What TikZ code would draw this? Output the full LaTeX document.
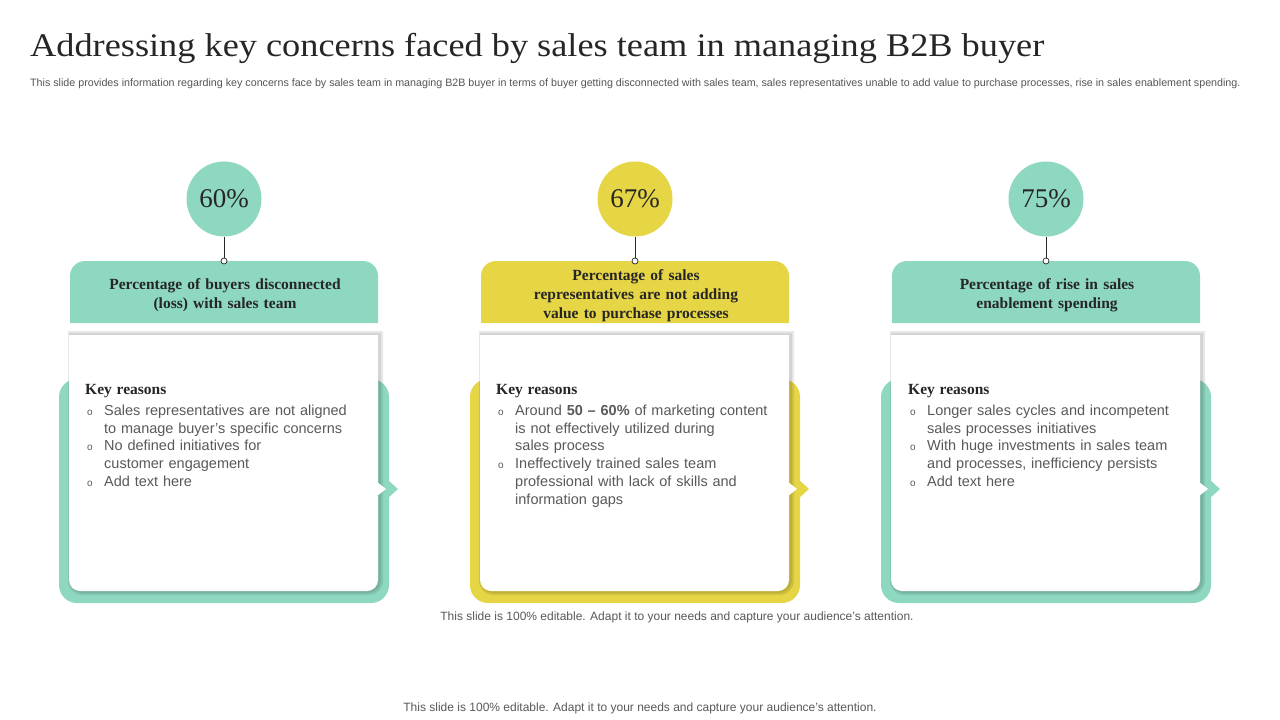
\documentclass[tikz,border=0pt]{standalone}
\usepackage{fontspec}
\setmainfont{Liberation Serif}
\setsansfont{Liberation Sans}
\usetikzlibrary{calc}
\definecolor{tealc}{HTML}{8ED8C2}
\definecolor{yellc}{HTML}{E6D544}
\definecolor{titlec}{HTML}{262626}
\definecolor{bodyc}{HTML}{595959}
\definecolor{subc}{HTML}{555555}
\newcommand\bl{\makebox[19pt][l]{\hspace{2pt}{\fontsize{10}{10}\selectfont o}}}
\newcommand\ind{\hspace*{19pt}}
\newcommand\kh{{\fontsize{15.5}{20}\selectfont\rmfamily\bfseries\color{titlec}Key reasons}\\[3.5pt]}
\tikzset{
  circnum/.style={circle, inner sep=0pt, minimum size=75pt, font=\fontsize{27}{30}\selectfont, text=titlec},
  dot/.style={circle, draw=titlec, fill=white, line width=0.7pt, inner sep=0pt, minimum size=6pt},
  headtxt/.style={align=center, text width=290pt, font=\fontsize{15.5}{19}\selectfont\bfseries, text=titlec},
  cardtxt/.style={anchor=north west, align=left, text width=290pt, inner sep=0pt, font=\sffamily\fontsize{14.5}{17.7}\selectfont, text=bodyc},
  foot/.style={font=\sffamily\fontsize{12}{14}\selectfont, text=bodyc},
  glow/.style={black, opacity=0.09}
}
\begin{document}
\begin{tikzpicture}[x=1pt,y=-1pt]
\useasboundingbox[fill=white] (0,0) rectangle (1280,720);

\node[anchor=west, inner sep=0pt, font=\fontsize{33}{38}\selectfont, text=titlec] (title) at (30,48) {\scalebox{1.1}[1]{Addressing key concerns faced by sales team in managing B2B buyer}};
\node[anchor=west, inner sep=0pt, font=\sffamily\fontsize{10.7}{12}\selectfont, text=subc] (sub) at (30,84) {This slide provides information regarding key concerns face by sales team in managing B2B buyer in terms of buyer getting disconnected with sales team, sales representatives unable to add value to purchase processes, rise in sales enablement spending.};

\foreach \cx/\col in {224/tealc, 635/yellc, 1046/tealc}{
  % outer frame
  \fill[\col, rounded corners=18pt] (\cx-165,379) rectangle (\cx+165,603);
  \fill[\col] (\cx+164,480) -- (\cx+174,489) -- (\cx+164,498) -- cycle;
  % header (rounded top corners only)
  \fill[\col] (\cx,323) -- (\cx-154,323) [rounded corners=15pt] -- (\cx-154,261) -- (\cx+154,261) [sharp corners] -- (\cx+154,323) -- cycle;
  % soft shadow of the white card
  \fill[glow] (\cx,331) -- (\cx+159,331) [rounded corners=14pt] -- (\cx+159,595) -- (\cx-156,595) [sharp corners] -- (\cx-156,331) -- cycle;
  \fill[glow] (\cx,333) -- (\cx+157,333) [rounded corners=13pt] -- (\cx+157,593) -- (\cx-155,593) [sharp corners] -- (\cx-155,333) -- cycle;
  % white card (rounded bottom corners only)
  \fill[white] (\cx,335) -- (\cx+154,335) [rounded corners=11pt] -- (\cx+154,591) -- (\cx-155,591) [sharp corners] -- (\cx-155,335) -- cycle;
  \fill[white] (\cx+153,482) -- (\cx+162,489) -- (\cx+153,496) -- cycle;
}

% circles and connectors
\node[circnum, fill=tealc] (c1) at (224,199) {60\%};
\node[circnum, fill=yellc] (c2) at (635,199) {67\%};
\node[circnum, fill=tealc] (c3) at (1046,199) {75\%};
\node[dot] (d1) at (224,261) {};
\node[dot] (d2) at (635,261) {};
\node[dot] (d3) at (1046,261) {};
\draw[titlec, line width=0.7pt] (c1.south) -- (d1.north);
\draw[titlec, line width=0.7pt] (c2.south) -- (d2.north);
\draw[titlec, line width=0.7pt] (c3.south) -- (d3.north);

% headers
\node[headtxt] (h1) at (225,295) {Percentage of buyers disconnected\\(loss) with sales team};
\node[headtxt] (h2) at (636,296) {Percentage of sales\\representatives are not adding\\value to purchase processes};
\node[headtxt] (h3) at (1047,295) {Percentage of rise in sales\\enablement spending};

% card texts
\node[cardtxt] (t1) at (85,384) {\kh
\bl Sales representatives are not aligned\\
\ind to manage buyer's specific concerns\\
\bl No defined initiatives for\\
\ind customer engagement\\
\bl Add text here};
\node[cardtxt] (t2) at (496,384) {\kh
\bl Around \textbf{50 -- 60\%} of marketing content\\
\ind is not effectively utilized during\\
\ind sales process\\
\bl Ineffectively trained sales team\\
\ind professional with lack of skills and\\
\ind information gaps};
\node[cardtxt] (t3) at (908,384) {\kh
\bl Longer sales cycles and incompetent\\
\ind sales processes initiatives\\
\bl With huge investments in sales team\\
\ind and processes, inefficiency persists\\
\bl Add text here};

% footers
\node[foot] (f1) at (677,617) {This slide is 100\% editable. Adapt it to your needs and capture your audience's attention.};
\node[foot] (f2) at (640,708) {This slide is 100\% editable. Adapt it to your needs and capture your audience's attention.};
\end{tikzpicture}
\end{document}
